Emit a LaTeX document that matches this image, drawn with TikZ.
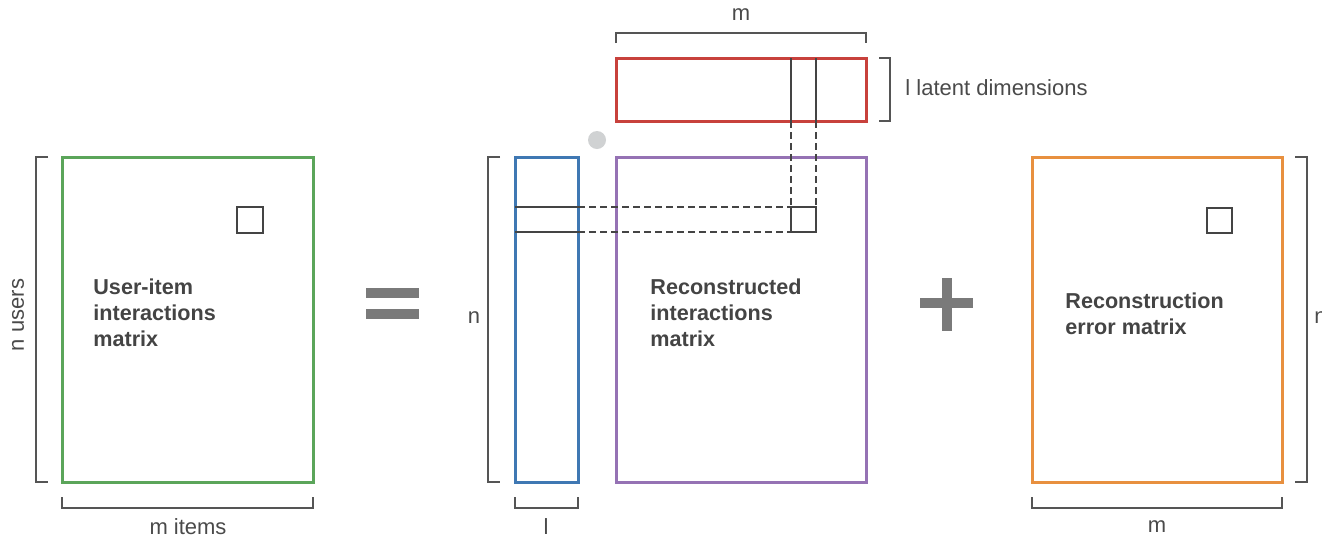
\documentclass[tikz,border=0pt]{standalone}
\usepackage{fontspec}
\setmainfont{Liberation Sans}
\begin{document}
\begin{tikzpicture}[x=0.5pt,y=-0.5pt,
  mat/.style={line width=1.5pt},
  brk/.style={draw=brk,line width=0.8pt},
  cell/.style={draw=txt,line width=0.75pt},
  dsh/.style={draw=txt,line width=0.75pt,dash pattern=on 3.5pt off 2pt},
  lab/.style={text=lab,font=\fontsize{11}{13}\selectfont,inner sep=0pt},
  big/.style={text=txt,font=\fontsize{10.8}{13}\selectfont\bfseries,align=left,inner sep=0pt,anchor=west}]
\definecolor{brk}{HTML}{555555}
\definecolor{txt}{HTML}{444444}
\definecolor{lab}{HTML}{4A4A4A}
\definecolor{cgreen}{HTML}{5BA55A}
\definecolor{cred}{HTML}{C8413C}
\definecolor{cblue}{HTML}{3F78B3}
\definecolor{cpurple}{HTML}{9572B4}
\definecolor{corange}{HTML}{E8903F}
\definecolor{sign}{HTML}{7A7A7A}
\definecolor{dot}{HTML}{D0D2D3}
\useasboundingbox (0,0) rectangle (1322,538);
\clip (0,0) rectangle (1322,538);

% --- left: user-item matrix
\draw[mat,draw=cgreen] (62,157) rectangle (313,482);
\draw[cell] (237,207) rectangle (263,233);
\node[big] (ui) at (93,313) {User-item\\interactions\\matrix};
\draw[brk] (48,157) -- (36,157) -- (36,482) -- (48,482);
\node[lab,rotate=90] (nusers) at (18,315) {n users};
\draw[brk] (62,497) -- (62,508) -- (313,508) -- (313,497);
\node[lab] (mitems) at (188,527) {m items};

% --- equals
\fill[sign] (366,288) rectangle (419,298);
\fill[sign] (366,309) rectangle (419,319);

% --- blue user factor
\draw[mat,draw=cblue] (515,157) rectangle (578,482);
\draw[brk] (500,157) -- (488,157) -- (488,482) -- (500,482);
\node[lab] (nlab) at (474,318) {n};
\draw[brk] (515,497) -- (515,508) -- (578,508) -- (578,497);
\node[lab] (llab) at (546,527) {l};

% --- red item factor
\draw[mat,draw=cred] (616,58) rectangle (866,121);
\draw[brk] (616,43) -- (616,33) -- (866,33) -- (866,43);
\node[lab] (mtop) at (741,15) {m};
\draw[brk] (879,58) -- (890,58) -- (890,121) -- (879,121);
\node[lab,anchor=west] (latent) at (905,88) {l latent dimensions};

% --- grey dot
\fill[dot] (597,140) circle (4.5pt);

% --- purple reconstructed matrix
\draw[mat,draw=cpurple] (616,157) rectangle (866,482);
\node[big] (rec) at (650,313) {Reconstructed\\interactions\\matrix};
\coordinate (sq1) at (791,207);
\coordinate (sq2) at (816,232);
\draw[cell] (sq1) rectangle (sq2);

% column slice in red and its dashed projection
\draw[cell] (791,58) -- (791,121);
\draw[cell] (816,58) -- (816,121);
\draw[dsh] (791,121) -- (sq1);
\draw[dsh] (816,121) -- (816,207);
% row slice in blue and its dashed projection
\draw[cell] (515,207) -- (578,207);
\draw[cell] (515,232) -- (578,232);
\draw[dsh] (578,207) -- (sq1);
\draw[dsh] (578,232) -- (791,232);

% --- plus
\fill[sign] (920,298) rectangle (973,308);
\fill[sign] (941.5,278) rectangle (951.5,331);

% --- orange error matrix
\draw[mat,draw=corange] (1032,157) rectangle (1282,482);
\draw[cell] (1207,208) rectangle (1232,233);
\node[big] (err) at (1065,313.5) {Reconstruction\\error matrix};
\draw[brk] (1295,157) -- (1307,157) -- (1307,482) -- (1295,482);
\node[lab,anchor=west] (nright) at (1314,318) {n};
\draw[brk] (1032,497) -- (1032,508) -- (1282,508) -- (1282,497);
\node[lab] (mbot) at (1157,527) {m};
\end{tikzpicture}
\end{document}
